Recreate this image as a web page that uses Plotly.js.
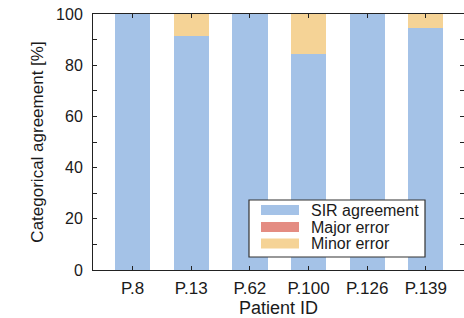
<!DOCTYPE html>
<html>
<head>
<meta charset="utf-8">
<script src="https://cdn.plot.ly/plotly-3.0.1.min.js"></script>
<style>html,body{margin:0;padding:0;background:#fff;}</style>
</head>
<body>
<div id="chart" style="width:464px;height:318px;"></div>
<script>
var patients = ["P.8", "P.13", "P.62", "P.100", "P.126", "P.139"];
var sirAgreement = [100, 91.5, 100, 84.2, 100, 94.7];
var majorError = [0, 0, 0, 0, 0, 0];
var minorError = [0, 8.5, 0, 15.8, 0, 5.3];
var seriesNames = ["SIR agreement", "Major error", "Minor error"];
var seriesColors = ["#a4c2e7", "#e48c82", "#f5d396"];
var yTicks = [0, 20, 40, 60, 80, 100];

var series = [sirAgreement, majorError, minorError];
var traces = series.map(function (vals, i) {
  return {
    type: "bar", x: patients, y: vals, name: seriesNames[i],
    marker: {color: seriesColors[i], line: {width: 0}},
    width: 0.6, showlegend: false, hoverinfo: "x+y"
  };
});

var fam = "Liberation Sans, Arial, sans-serif";
var ink = "#1a1a1a";

// custom legend box (paper coordinates), drawn as shapes + text
var L = 93, W = 371, B = 270, H = 256;
function px(x) { return (x - L) / W; }
function py(y) { return (B - y) / H; }
var shapes = [{
  type: "rect", xref: "paper", yref: "paper",
  x0: px(249), x1: px(425), y0: py(257), y1: py(200),
  fillcolor: "#ffffff", line: {color: "#333333", width: 1.2}, layer: "above"
}];
var annotations = [];
var rowY = [210, 227, 243.5];
seriesNames.forEach(function (name, i) {
  shapes.push({
    type: "rect", xref: "paper", yref: "paper",
    x0: px(261), x1: px(299), y0: py(rowY[i] + 5), y1: py(rowY[i] - 5),
    fillcolor: seriesColors[i], line: {width: 0}, layer: "above"
  });
  annotations.push({
    xref: "paper", yref: "paper", x: px(309), y: py(rowY[i]),
    xanchor: "left", yanchor: "middle", showarrow: false,
    text: name, font: {family: fam, size: 16, color: ink}
  });
});

var layout = {
  width: 464, height: 318,
  margin: {l: 93, r: 0, t: 14, b: 48},
  barmode: "stack",
  paper_bgcolor: "#ffffff", plot_bgcolor: "#ffffff",
  font: {family: fam, color: ink},
  showlegend: false,
  shapes: shapes,
  annotations: annotations,
  xaxis: {
    type: "category", range: [-0.675, 5.65],
    showline: true, linecolor: "#222", linewidth: 1, mirror: "ticks",
    ticks: "inside", ticklen: 4, tickcolor: "#222",
    tickfont: {family: fam, size: 17, color: ink},
    ticklabelstandoff: 3,
    showgrid: false, zeroline: false, fixedrange: true,
    title: {text: "Patient ID", font: {family: fam, size: 18, color: ink}, standoff: 9}
  },
  yaxis: {
    range: [0, 100], tickvals: yTicks,
    showline: true, linecolor: "#222", linewidth: 1, mirror: "ticks",
    ticks: "inside", ticklen: 4, tickcolor: "#222",
    minor: {dtick: 10, ticks: "inside", ticklen: 4, tickcolor: "#222", showgrid: false},
    tickfont: {family: fam, size: 16, color: ink},
    ticklabelstandoff: 6,
    showgrid: false, zeroline: false, fixedrange: true,
    title: {text: "Categorical agreement [%]", font: {family: fam, size: 17, color: ink}, standoff: 8}
  }
};
Plotly.newPlot("chart", traces, layout, {displayModeBar: false, staticPlot: true});
</script>
</body>
</html>
